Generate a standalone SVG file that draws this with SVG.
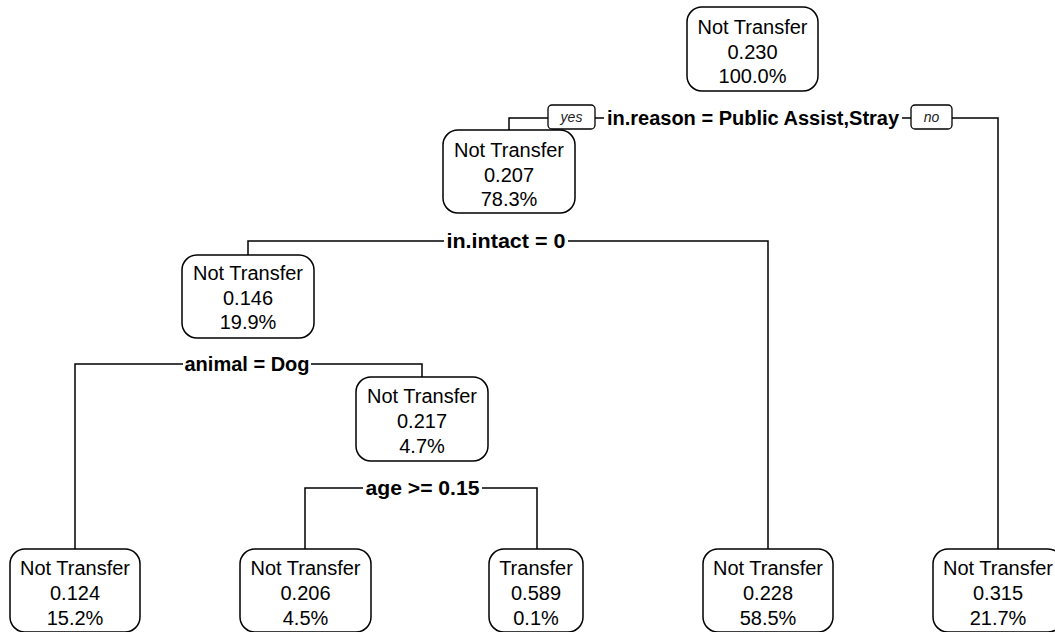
<svg xmlns="http://www.w3.org/2000/svg" width="1055" height="632" viewBox="0 0 1055 632">
<style>
.box{fill:#fff;stroke:#000;stroke-width:1.5}
.t{font-family:"Liberation Sans",Arial,sans-serif;font-size:20px;fill:#000;text-anchor:middle}
.lab{font-family:"Liberation Sans",Arial,sans-serif;font-size:20px;font-weight:bold;fill:#000;text-anchor:middle}
.yn{font-family:"Liberation Sans",Arial,sans-serif;font-size:14px;font-style:italic;fill:#222;text-anchor:middle}
.ynb{fill:#fff;stroke:#000;stroke-width:1.3}
.c{fill:none;stroke:#000;stroke-width:1.5}
</style>
<rect width="1055" height="632" fill="#fff"/>
<g id="connectors">
<polyline class="c" points="509,130 509,118 548,118"/>
<line class="c" x1="595" y1="118" x2="604" y2="118"/>
<line class="c" x1="902" y1="118" x2="911" y2="118"/>
<polyline class="c" points="952,118 998,118 998,549"/>
<polyline class="c" points="248,255 248,241 444,241"/>
<polyline class="c" points="568,241 768,241 768,549"/>
<polyline class="c" points="75,549 75,364 183,364"/>
<polyline class="c" points="311,364 422,364 422,377"/>
<polyline class="c" points="305,549 305,488 363,488"/>
<polyline class="c" points="482,488 537,488 537,549"/>
<rect class="ynb" x="548" y="105" width="47" height="24" rx="4"/>
<text class="yn" x="571.5" y="122">yes</text>
<rect class="ynb" x="911" y="105" width="41" height="24" rx="4"/>
<text class="yn" x="931.5" y="122">no</text>
<text class="lab" x="753" y="125">in.reason = Public Assist,Stray</text>
<text class="lab" x="506" y="248" textLength="119" lengthAdjust="spacingAndGlyphs">in.intact = 0</text>
<text class="lab" x="247" y="371">animal = Dog</text>
<text class="lab" x="422.5" y="495" textLength="114" lengthAdjust="spacingAndGlyphs">age &gt;= 0.15</text>
</g>
<g id="n1">
<rect class="box" x="687" y="7" width="131" height="84" rx="15"/>
<text class="t" x="752.5" y="34">Not Transfer</text>
<text class="t" x="752.5" y="59">0.230</text>
<text class="t" x="752.5" y="83">100.0%</text>
</g>
<g id="n2">
<rect class="box" x="443" y="130" width="132" height="83" rx="15"/>
<text class="t" x="509" y="157">Not Transfer</text>
<text class="t" x="509" y="182">0.207</text>
<text class="t" x="509" y="206">78.3%</text>
</g>
<g id="n4">
<rect class="box" x="182" y="255" width="132" height="83" rx="15"/>
<text class="t" x="248" y="280">Not Transfer</text>
<text class="t" x="248" y="305">0.146</text>
<text class="t" x="248" y="329">19.9%</text>
</g>
<g id="n9">
<rect class="box" x="356" y="377" width="132" height="84" rx="15"/>
<text class="t" x="422" y="403">Not Transfer</text>
<text class="t" x="422" y="428">0.217</text>
<text class="t" x="422" y="453">4.7%</text>
</g>
<g id="n8">
<rect class="box" x="10" y="549" width="130" height="83" rx="15"/>
<text class="t" x="75" y="575">Not Transfer</text>
<text class="t" x="75" y="600">0.124</text>
<text class="t" x="75" y="625">15.2%</text>
</g>
<g id="n18">
<rect class="box" x="240" y="549" width="131" height="83" rx="15"/>
<text class="t" x="305.5" y="575">Not Transfer</text>
<text class="t" x="305.5" y="600">0.206</text>
<text class="t" x="305.5" y="625">4.5%</text>
</g>
<g id="n19">
<rect class="box" x="489" y="549" width="94" height="83" rx="15"/>
<text class="t" x="536" y="575">Transfer</text>
<text class="t" x="536" y="600">0.589</text>
<text class="t" x="536" y="625">0.1%</text>
</g>
<g id="n5">
<rect class="box" x="703" y="549" width="130" height="83" rx="15"/>
<text class="t" x="768" y="575">Not Transfer</text>
<text class="t" x="768" y="600">0.228</text>
<text class="t" x="768" y="625">58.5%</text>
</g>
<g id="n3">
<rect class="box" x="933" y="549" width="130" height="83" rx="15"/>
<text class="t" x="998" y="575">Not Transfer</text>
<text class="t" x="998" y="600">0.315</text>
<text class="t" x="998" y="625">21.7%</text>
</g>
</svg>
